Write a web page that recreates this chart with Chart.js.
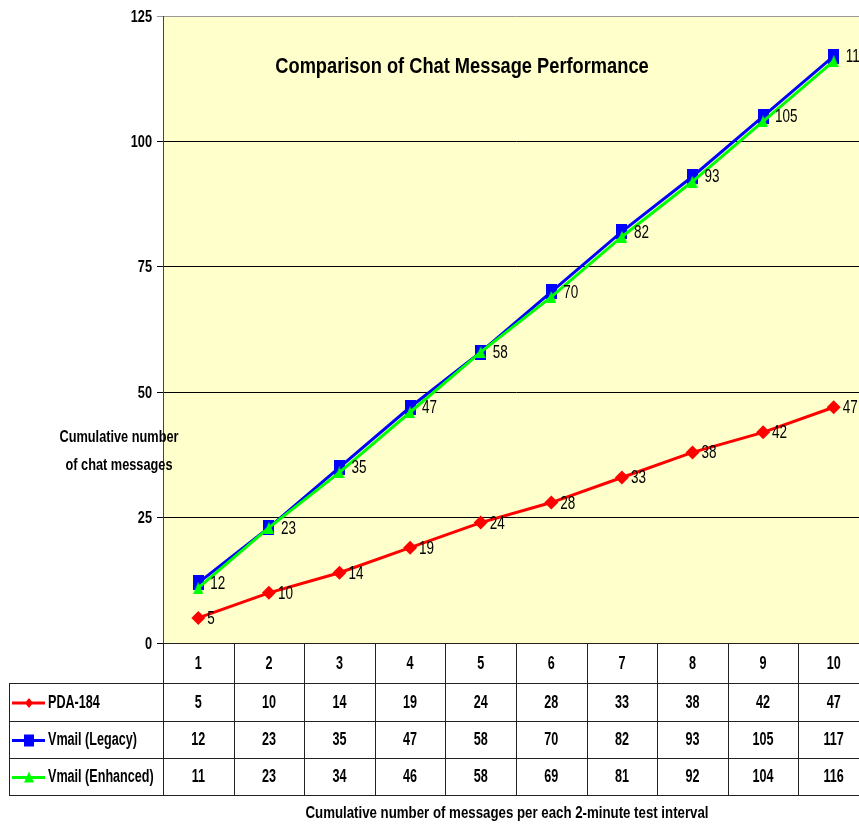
<!DOCTYPE html>
<html>
<head>
<meta charset="utf-8">
<script src="https://cdn.jsdelivr.net/npm/chart.js@4.4.0/dist/chart.umd.min.js"></script>
<style>
  html, body { margin: 0; padding: 0; background: #fff; overflow: hidden; }
  #wrap { width: 859px; height: 825px; overflow: hidden; }
</style>
</head>
<body>
<div id="wrap"><canvas id="chart" width="880" height="825"></canvas></div>
<script>
const intervals = ["1", "2", "3", "4", "5", "6", "7", "8", "9", "10"];
const pda184 = [5, 10, 14, 19, 24, 28, 33, 38, 42, 47];
const vmailLegacy = [12, 23, 35, 47, 58, 70, 82, 93, 105, 117];
const vmailEnhanced = [11, 23, 34, 46, 58, 69, 81, 92, 104, 116];
const yTicks = [0, 25, 50, 75, 100, 125];
const seriesNames = ["PDA-184", "Vmail (Legacy)", "Vmail (Enhanced)"];
const seriesColors = ["#ff0000", "#0000ff", "#00ff00"];
const seriesMarkers = ["diamond", "square", "triangle"];

const FONT = '"Liberation Sans", Arial, sans-serif';

// text squeezed sideways, to get close to the narrow font of the original
const narrowText = (ctx, text, x, y, sx, align) => {
  ctx.save();
  ctx.translate(x, y);
  ctx.scale(sx, 1);
  ctx.textAlign = align || "center";
  ctx.fillText(text, 0, 0);
  ctx.restore();
};

const makeMarker = (kind, w, h, color) => {
  const c = document.createElement("canvas");
  c.width = w;
  c.height = h;
  const g = c.getContext("2d");
  g.fillStyle = color;
  g.beginPath();
  if (kind === "square") {
    g.rect(0, 0, w, h);
  } else {
    g.moveTo(w / 2, 0); g.lineTo(w, h); g.lineTo(0, h);
  }
  g.closePath();
  g.fill();
  return c;
};

const blueSquare = makeMarker("square", 11, 15, seriesColors[1]);
const greenTriangle = makeMarker("triangle", 10, 12, seriesColors[2]);

// legend keys inside the table
const drawKey = (ctx, kind, x, y, color) => {
  ctx.fillStyle = color;
  ctx.beginPath();
  if (kind === "diamond") {
    ctx.moveTo(x, y - 5); ctx.lineTo(x + 4, y); ctx.lineTo(x, y + 5); ctx.lineTo(x - 4, y);
  } else if (kind === "square") {
    ctx.rect(x - 5, y - 6, 10, 12);
  } else {
    ctx.moveTo(x, y - 6); ctx.lineTo(x + 5, y + 5); ctx.lineTo(x - 5, y + 5);
  }
  ctx.closePath();
  ctx.fill();
};

const chartDecor = {
  id: "chartDecor",
  beforeDraw(chart) {
    const { ctx, chartArea: a } = chart;
    ctx.save();
    ctx.fillStyle = "#ffffcc";
    ctx.fillRect(a.left, a.top, a.right - a.left, a.bottom - a.top);
    ctx.restore();
  },
  afterDatasetsDraw(chart) {
    const { ctx } = chart;
    ctx.save();
    ctx.font = "18px " + FONT;
    ctx.fillStyle = "#000";
    ctx.textBaseline = "middle";
    [0, 1].forEach((di) => {
      const meta = chart.getDatasetMeta(di);
      meta.data.forEach((pt, j) => {
        narrowText(ctx, String(chart.data.datasets[di].data[j]), pt.x + (di === 0 ? 9 : 12), pt.y + 1, 0.75, "left");
      });
    });
    ctx.restore();
  },
  afterDraw(chart) {
    const { ctx, chartArea: a } = chart;
    const xs = chart.scales.x;
    const ys = chart.scales.y;
    const half = (xs.getPixelForValue(1) - xs.getPixelForValue(0)) / 2;
    const rows = [a.bottom, a.bottom + 40, a.bottom + 78, a.bottom + 115, a.bottom + 152];
    const tableLeft = 9;
    const rowData = [pda184, vmailLegacy, vmailEnhanced];

    ctx.save();
    ctx.fillStyle = "#000";
    ctx.textBaseline = "middle";

    // y tick labels
    ctx.font = "bold 17px " + FONT;
    yTicks.forEach((v) => {
      narrowText(ctx, String(v), 152, ys.getPixelForValue(v) + 1, 0.75, "right");
    });

    // table grid
    ctx.strokeStyle = "#222";
    ctx.lineWidth = 1;
    ctx.beginPath();
    for (let j = 0; j <= intervals.length; j++) {
      const x = Math.round(xs.getPixelForValue(0) - half + j * 2 * half) + 0.5;
      ctx.moveTo(x, rows[0]);
      ctx.lineTo(x, rows[4]);
    }
    ctx.moveTo(tableLeft + 0.5, rows[1]);
    ctx.lineTo(tableLeft + 0.5, rows[4]);
    ctx.moveTo(a.left, Math.round(rows[0]) + 0.5);
    ctx.lineTo(a.right, Math.round(rows[0]) + 0.5);
    for (let r = 1; r < rows.length; r++) {
      ctx.moveTo(tableLeft, Math.round(rows[r]) + 0.5);
      ctx.lineTo(a.right, Math.round(rows[r]) + 0.5);
    }
    ctx.stroke();

    ctx.font = "bold 18px " + FONT;
    intervals.forEach((lab, j) => {
      const x = xs.getPixelForValue(j);
      narrowText(ctx, lab, x, (rows[0] + rows[1]) / 2 + 1, 0.7);
      rowData.forEach((vals, r) => {
        narrowText(ctx, String(vals[j]), x, (rows[r + 1] + rows[r + 2]) / 2 + 1, 0.7);
      });
    });

    seriesNames.forEach((name, r) => {
      const y = (rows[r + 1] + rows[r + 2]) / 2 + 1;
      ctx.strokeStyle = seriesColors[r];
      ctx.lineWidth = 3;
      ctx.beginPath();
      ctx.moveTo(12, y);
      ctx.lineTo(45, y);
      ctx.stroke();
      drawKey(ctx, seriesMarkers[r], 29, y, seriesColors[r]);
      ctx.fillStyle = "#000";
      narrowText(ctx, name, 48, y, 0.7, "left");
    });

    // titles
    ctx.font = "bold 22px " + FONT;
    narrowText(ctx, "Comparison of Chat Message Performance", 462, 67, 0.83);
    ctx.font = "bold 17px " + FONT;
    narrowText(ctx, "Cumulative number", 119, 437, 0.75);
    narrowText(ctx, "of chat messages", 119, 465, 0.75);
    narrowText(ctx, "Cumulative number of messages per each 2-minute test interval", 507, 813, 0.78);
    ctx.restore();
  }
};

new Chart(document.getElementById("chart"), {
  type: "line",
  data: {
    labels: intervals,
    datasets: [
      {
        label: seriesNames[0],
        data: pda184,
        borderColor: seriesColors[0],
        backgroundColor: seriesColors[0],
        borderWidth: 3,
        pointStyle: "rectRot",
        pointRadius: 7,
        pointBorderWidth: 0,
        order: 2,
      },
      {
        label: seriesNames[1],
        data: vmailLegacy,
        borderColor: seriesColors[1],
        backgroundColor: seriesColors[1],
        borderWidth: 3,
        pointStyle: blueSquare,
        pointRadius: 8,
        order: 1,
      },
      {
        label: seriesNames[2],
        data: vmailEnhanced,
        borderColor: seriesColors[2],
        backgroundColor: seriesColors[2],
        borderWidth: 3,
        pointStyle: greenTriangle,
        pointRadius: 6,
        order: 0,
      },
    ],
  },
  options: {
    responsive: false,
    animation: false,
    layout: { padding: { left: 0, top: 16, right: 10, bottom: 182 } },
    plugins: {
      legend: { display: false },
      tooltip: { enabled: false },
    },
    scales: {
      x: {
        display: false,
        offset: true,
      },
      y: {
        min: 0,
        max: 125,
        afterFit: (scale) => { scale.width = 163; },
        ticks: {
          stepSize: 25,
          display: false,
        },
        grid: {
          color: (c) => (c.tick && c.tick.value === 125 ? "#999" : "#000"),
          tickLength: 6,
        },
        border: { color: "#444" },
      },
    },
  },
  plugins: [chartDecor],
});
</script>
</body>
</html>
